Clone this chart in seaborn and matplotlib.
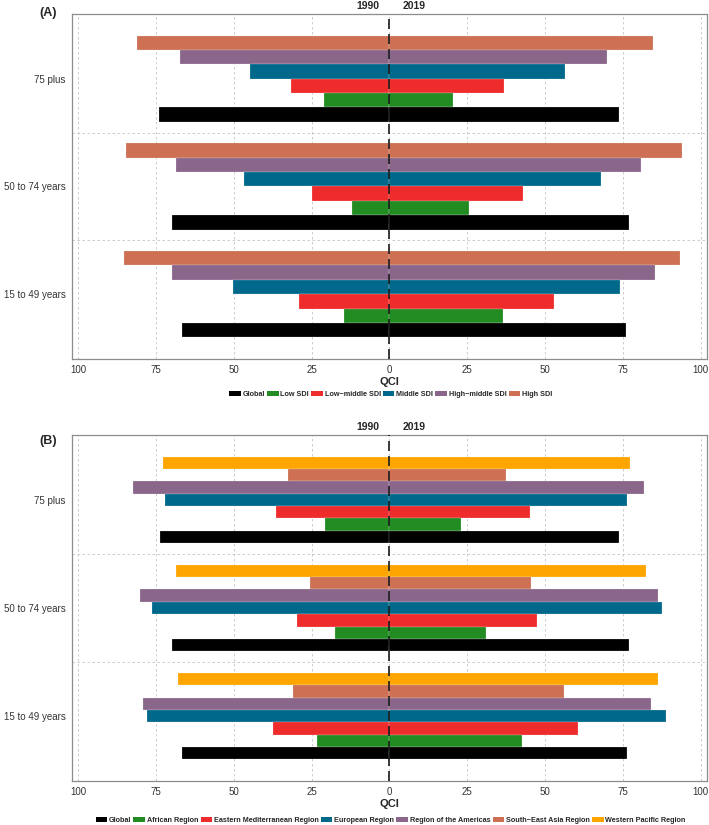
"""QCI by age group, 1990 vs 2019: (A) by SDI level, (B) by WHO region."""
import matplotlib
matplotlib.use("Agg")
import matplotlib.pyplot as plt
import matplotlib.transforms as mtransforms
from matplotlib.patches import Patch
import pandas as pd
import seaborn as sns

# ---------------------------------------------------------------------------
# Data
# ---------------------------------------------------------------------------
age_groups = ["75 plus", "50 to 74 years", "15 to 49 years"]

sdi_levels = ["Global", "Low SDI", "Low\u2212middle SDI", "Middle SDI",
              "High\u2212middle SDI", "High SDI"]
sdi_colors = ["#000000", "#228B22", "#EE2C2C", "#00688B", "#8B668B", "#CD7054"]
# rows follow age_groups, columns follow sdi_levels
sdi_1990 = [
    [74.0, 21.2, 31.8, 44.9, 67.4, 81.0],
    [70.0, 12.0, 24.9, 46.6, 68.6, 84.8],
    [66.6, 14.6, 29.2, 50.2, 69.9, 85.4],
]
sdi_2019 = [
    [73.7, 20.4, 36.9, 56.4, 70.0, 84.8],
    [77.0, 25.4, 43.0, 68.0, 80.8, 94.0],
    [75.9, 36.4, 52.7, 74.0, 85.4, 93.3],
]

who_regions = ["Global", "African Region", "Eastern Mediterranean Region",
               "European Region", "Region of the Americas",
               "South\u2212East Asia Region", "Western Pacific Region"]
who_colors = ["#000000", "#228B22", "#EE2C2C", "#00688B", "#8B668B",
              "#CD7054", "#FFA500"]
who_1990 = [
    [73.7, 20.6, 36.5, 72.1, 82.3, 32.7, 72.8],
    [70.0, 17.6, 29.8, 76.2, 80.2, 25.4, 68.7],
    [66.6, 23.3, 37.3, 77.9, 79.2, 30.9, 67.8],
]
who_2019 = [
    [73.8, 23.1, 45.2, 76.2, 81.8, 37.5, 77.2],
    [77.0, 31.0, 47.5, 87.5, 86.2, 45.4, 82.4],
    [76.3, 42.5, 60.5, 88.9, 83.9, 56.2, 86.2],
]

year_labels = ["1990", "2019"]
x_ticks = [-100, -75, -50, -25, 0, 25, 50, 75, 100]


def to_long(levels, v1990, v2019):
    rows = []
    for i, age in enumerate(age_groups):
        for j, lev in enumerate(levels):
            # 1990 goes to the left of zero, 2019 to the right
            rows.append({"age": age, "group": lev, "year": "1990",
                         "qci": -v1990[i][j]})
            rows.append({"age": age, "group": lev, "year": "2019",
                         "qci": v2019[i][j]})
    return pd.DataFrame(rows)


def draw_panel(fig, ax, levels, colors, v1990, v2019, tag, tag_y, legend_y):
    df = to_long(levels, v1990, v2019)
    # first hue level is drawn at the top of each group -> reverse order
    hue_order = levels[::-1]
    palette = dict(zip(levels, colors))
    for yr in year_labels:
        sns.barplot(data=df[df["year"] == yr], x="qci", y="age", hue="group",
                    order=age_groups, hue_order=hue_order, palette=palette,
                    orient="h", width=0.8, errorbar=None, legend=False,
                    edgecolor="#f2f2f2", linewidth=0.15, saturation=1, ax=ax)

    ax.set_xlim(-102, 102)
    ax.set_ylim(2.6, -0.6)
    ax.set_xticks(x_ticks)
    ax.set_xticklabels([str(abs(t)) for t in x_ticks])
    ax.set_axisbelow(True)
    ax.grid(axis="x", color="#c4c4c4", lw=0.6, ls=(0, (3, 3)))
    for yb in (0.5, 1.5):
        ax.axhline(yb, color="#c4c4c4", lw=0.6, ls=(0, (3, 3)), zorder=0)
    ax.axvline(0, color="#1a1a1a", lw=1.2, ls=(0, (6, 3)), zorder=5)

    ax.set_ylabel("")
    ax.set_xlabel("QCI", fontsize=8, fontweight="bold", labelpad=1)
    ax.tick_params(axis="both", length=2.5, width=0.6, color="#7f7f7f",
                   labelsize=7, labelcolor="#333333", pad=2)
    for sp in ax.spines.values():
        sp.set_visible(True)
        sp.set_color("#8c8c8c")
        sp.set_linewidth(0.9)

    trans = mtransforms.blended_transform_factory(ax.transData, ax.transAxes)
    ax.text(-7, 1.008, "1990", transform=trans, ha="center", va="bottom",
            fontsize=7.5, fontweight="bold")
    ax.text(8, 1.008, "2019", transform=trans, ha="center", va="bottom",
            fontsize=7.5, fontweight="bold")
    fig.text(0.068, tag_y, tag, ha="center", va="center",
             fontsize=9, fontweight="bold")

    handles = [Patch(facecolor=c, edgecolor="none") for c in colors]
    fig.legend(handles, levels, loc="center", bbox_to_anchor=(0.551, legend_y),
               ncol=len(levels), frameon=False,
               prop={"size": 5.2, "weight": "bold"}, handlelength=1.6,
               handleheight=0.7, handletextpad=0.25, columnspacing=0.3,
               borderpad=0)


def main() -> None:
    sns.set_style("white")
    plt.rcParams["font.family"] = ["Liberation Sans", "DejaVu Sans"]

    fig = plt.figure(figsize=(7.09, 8.25), dpi=100)
    ax_a = fig.add_axes([0.1016, 0.565, 0.8955, 0.418])
    ax_b = fig.add_axes([0.1016, 0.0533, 0.8955, 0.4194])

    draw_panel(fig, ax_a, sdi_levels, sdi_colors, sdi_1990, sdi_2019,
               "(A)", 0.984, 0.522)
    draw_panel(fig, ax_b, who_regions, who_colors, who_1990, who_2019,
               "(B)", 0.466, 0.006)

    fig.savefig("out.png", dpi=100)
    plt.close(fig)


if __name__ == "__main__":
    main()
